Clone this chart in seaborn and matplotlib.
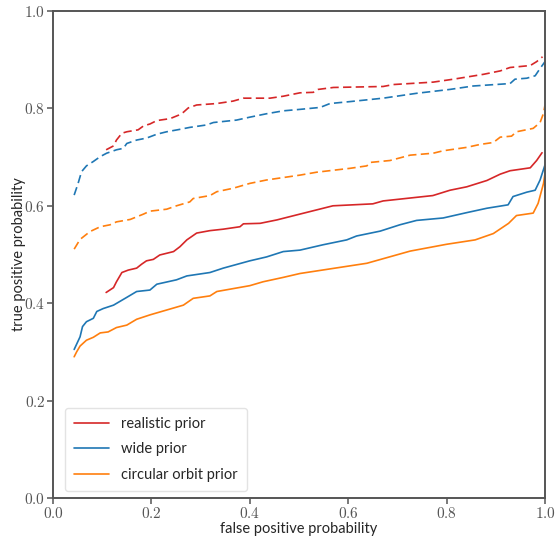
import matplotlib
matplotlib.use("Agg")
import matplotlib.pyplot as plt
import seaborn as sns
from matplotlib.ticker import FuncFormatter

# ---- data ----
real_fpr = [0.108, 0.123, 0.129, 0.140, 0.153, 0.170, 0.180, 0.190, 0.204, 0.217, 0.245, 0.258, 0.272,
            0.292, 0.319, 0.346, 0.380, 0.387, 0.421, 0.455, 0.502, 0.569, 0.650, 0.671, 0.772, 0.807,
            0.841, 0.882, 0.909, 0.929, 0.970, 0.983, 0.994]
real_tpr = [0.422, 0.432, 0.444, 0.463, 0.468, 0.472, 0.480, 0.487, 0.490, 0.499, 0.506, 0.516, 0.530,
            0.544, 0.549, 0.552, 0.557, 0.563, 0.564, 0.571, 0.583, 0.600, 0.604, 0.610, 0.621, 0.632,
            0.639, 0.652, 0.665, 0.672, 0.678, 0.693, 0.709]

wide_fpr = [0.043, 0.055, 0.060, 0.068, 0.082, 0.089, 0.102, 0.123, 0.150, 0.170, 0.197, 0.211, 0.251,
            0.272, 0.319, 0.346, 0.400, 0.434, 0.468, 0.502, 0.549, 0.597, 0.617, 0.665, 0.705, 0.739,
            0.793, 0.841, 0.882, 0.925, 0.935, 0.963, 0.980, 0.990, 1.000]
wide_tpr = [0.305, 0.331, 0.352, 0.362, 0.369, 0.383, 0.389, 0.396, 0.412, 0.424, 0.427, 0.439, 0.448,
            0.456, 0.463, 0.472, 0.487, 0.495, 0.506, 0.509, 0.520, 0.530, 0.538, 0.548, 0.561, 0.570,
            0.575, 0.586, 0.595, 0.602, 0.619, 0.628, 0.632, 0.653, 0.684]

circ_fpr = [0.043, 0.048, 0.055, 0.068, 0.082, 0.096, 0.112, 0.129, 0.150, 0.170, 0.197, 0.231, 0.265,
            0.285, 0.319, 0.333, 0.400, 0.427, 0.468, 0.502, 0.638, 0.726, 0.800, 0.858, 0.895, 0.926,
            0.942, 0.976, 0.986, 0.997, 1.000]
circ_tpr = [0.290, 0.300, 0.312, 0.324, 0.330, 0.339, 0.341, 0.350, 0.355, 0.367, 0.376, 0.386, 0.396,
            0.410, 0.415, 0.424, 0.436, 0.444, 0.453, 0.461, 0.482, 0.507, 0.521, 0.530, 0.543, 0.564,
            0.580, 0.585, 0.605, 0.646, 0.667]

real_d_fpr = [0.108, 0.123, 0.129, 0.140, 0.150, 0.173, 0.184, 0.197, 0.211, 0.238, 0.255, 0.265, 0.275,
              0.292, 0.333, 0.366, 0.387, 0.441, 0.468, 0.502, 0.529, 0.539, 0.570, 0.671, 0.692, 0.773,
              0.814, 0.875, 0.909, 0.929, 0.970, 0.983, 0.995]
real_d_tpr = [0.715, 0.723, 0.735, 0.749, 0.752, 0.756, 0.764, 0.768, 0.775, 0.779, 0.786, 0.792, 0.801,
              0.807, 0.810, 0.815, 0.821, 0.821, 0.825, 0.832, 0.833, 0.839, 0.843, 0.845, 0.849, 0.854,
              0.860, 0.870, 0.877, 0.884, 0.888, 0.896, 0.906]

wide_d_fpr = [0.043, 0.051, 0.058, 0.068, 0.082, 0.096, 0.109, 0.129, 0.143, 0.150, 0.170, 0.190, 0.211,
              0.231, 0.258, 0.278, 0.312, 0.326, 0.373, 0.400, 0.434, 0.468, 0.502, 0.543, 0.563, 0.604,
              0.671, 0.739, 0.807, 0.854, 0.929, 0.939, 0.963, 0.980, 0.990, 1.000]
wide_d_tpr = [0.622, 0.646, 0.670, 0.682, 0.691, 0.701, 0.708, 0.715, 0.718, 0.728, 0.735, 0.739, 0.747,
              0.752, 0.757, 0.761, 0.766, 0.771, 0.776, 0.782, 0.789, 0.795, 0.798, 0.802, 0.810, 0.814,
              0.821, 0.831, 0.839, 0.846, 0.851, 0.860, 0.862, 0.867, 0.882, 0.896]

circ_d_fpr = [0.043, 0.055, 0.075, 0.096, 0.116, 0.129, 0.157, 0.184, 0.197, 0.231, 0.251, 0.278, 0.285,
              0.319, 0.333, 0.366, 0.400, 0.434, 0.468, 0.502, 0.536, 0.604, 0.638, 0.644, 0.685, 0.726,
              0.773, 0.793, 0.841, 0.868, 0.895, 0.909, 0.932, 0.942, 0.976, 0.990, 0.997, 1.000]
circ_d_tpr = [0.511, 0.531, 0.547, 0.557, 0.561, 0.567, 0.572, 0.583, 0.589, 0.593, 0.600, 0.608, 0.615,
              0.621, 0.629, 0.636, 0.646, 0.653, 0.658, 0.663, 0.669, 0.677, 0.682, 0.689, 0.693, 0.704,
              0.708, 0.713, 0.720, 0.726, 0.730, 0.741, 0.743, 0.752, 0.759, 0.771, 0.790, 0.807]

labels = ["realistic prior", "wide prior", "circular orbit prior"]
colors = ["#d62728", "#1f77b4", "#ff7f0e"]
xticks = [0.0, 0.2, 0.4, 0.6, 0.8, 1.0]
yticks = [0.0, 0.2, 0.4, 0.6, 0.8, 1.0]

sns.set_theme(style="ticks")
plt.rcParams["font.family"] = ["Lato", "DejaVu Sans"]
plt.rcParams["mathtext.fontset"] = "cm"

fig = plt.figure(figsize=(5.57, 5.40), dpi=100)
ax = fig.add_axes([53 / 557, 1 - 498 / 540, 492 / 557, 487 / 540])

solid = [(real_fpr, real_tpr), (wide_fpr, wide_tpr), (circ_fpr, circ_tpr)]
dashed = [(real_d_fpr, real_d_tpr), (wide_d_fpr, wide_d_tpr), (circ_d_fpr, circ_d_tpr)]

for (x, y), lab, c in zip(solid, labels, colors):
    sns.lineplot(x=x, y=y, ax=ax, color=c, lw=1.2, label=lab, estimator=None, sort=False)
for (x, y), c in zip(dashed, colors):
    sns.lineplot(x=x, y=y, ax=ax, color=c, lw=1.2, estimator=None, sort=False)
    ax.lines[-1].set_dashes([5.0, 2.6])

ax.set_xlim(0, 1)
ax.set_ylim(0, 1)
ax.set_xticks(xticks)
ax.set_yticks(yticks)
fmt = FuncFormatter(lambda v, p: r"$%.1f$" % v)
ax.xaxis.set_major_formatter(fmt)
ax.yaxis.set_major_formatter(fmt)
ax.tick_params(axis="both", labelsize=11, colors="#555555", length=4, width=1.1,
               labelcolor="#555555", pad=1.5)
for s in ax.spines.values():
    s.set_color("#555555")
    s.set_linewidth(1.4)

ax.set_xlabel("false positive probability", fontsize=10.5, color="#262626", labelpad=1)
ax.set_ylabel("true positive probability", fontsize=10.5, color="#262626", labelpad=-1)

leg = ax.legend(loc="lower left", fontsize=10.5, frameon=True, handlelength=2.4, handletextpad=0.85,
                borderpad=0.6, labelspacing=0.8, bbox_to_anchor=(0.01, 0.0))
leg.get_frame().set_edgecolor("#dddddd")
for t in leg.get_texts():
    t.set_color("#262626")

fig.savefig("out.png", dpi=100)
